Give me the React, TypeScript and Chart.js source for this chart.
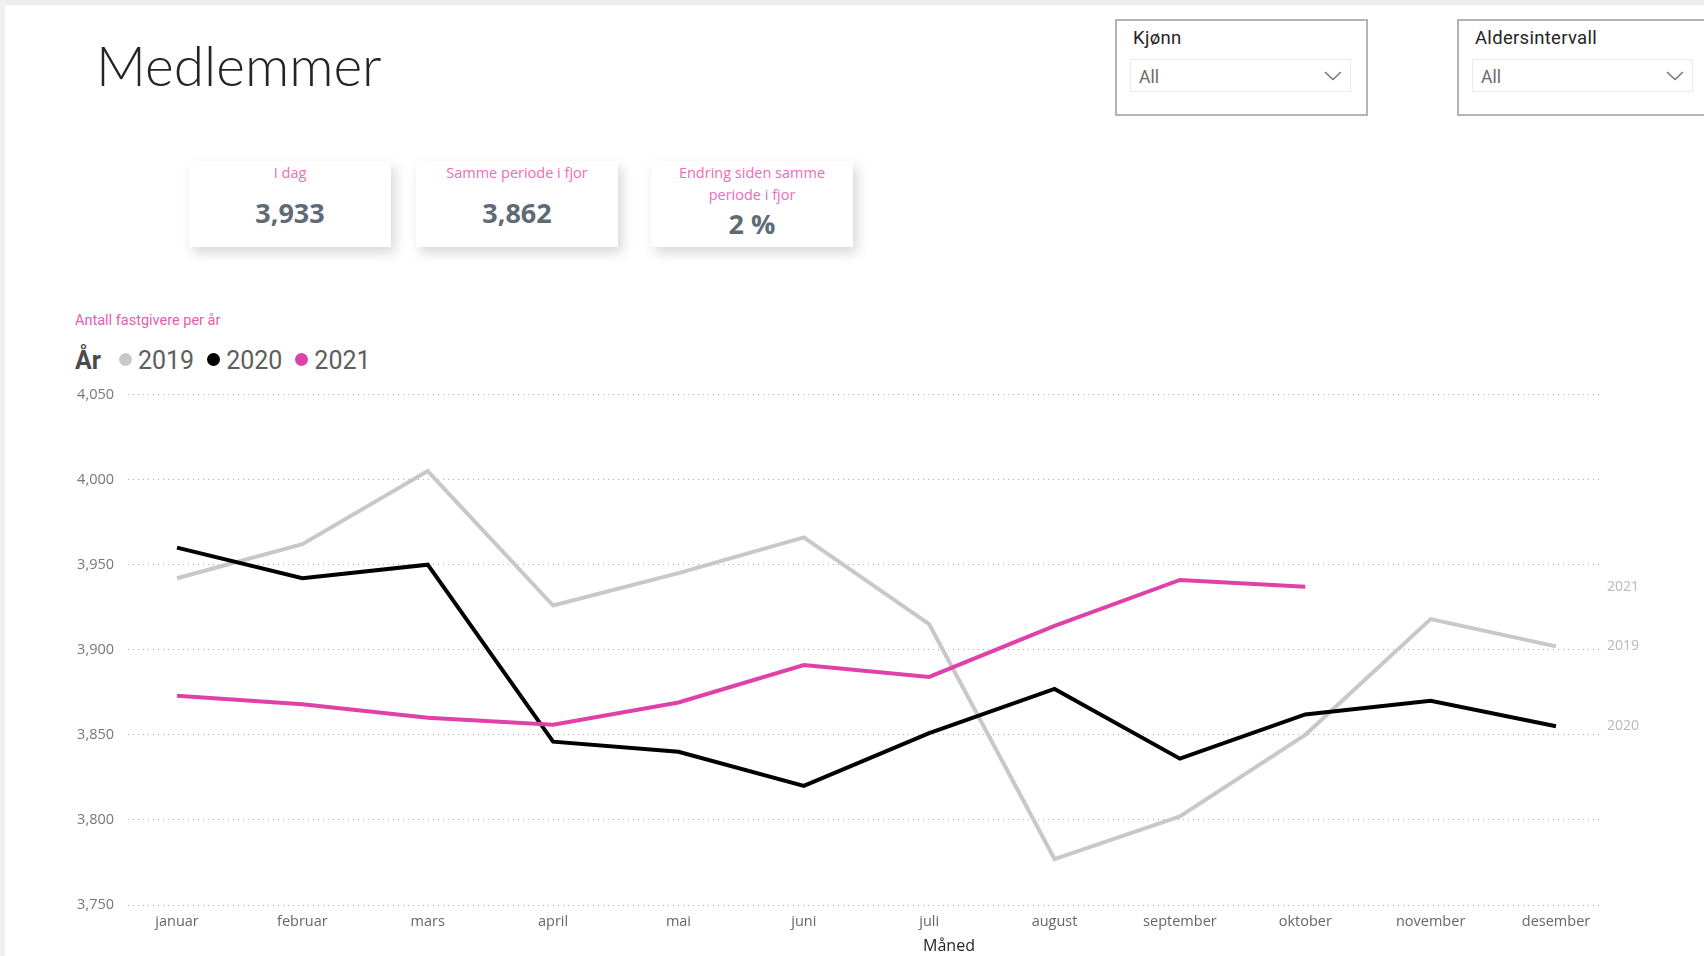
import React, { useEffect, useRef } from "react";
import { Chart, registerables } from "chart.js";

Chart.register(...registerables);

// ---------- data ----------
const months = [
  "januar", "februar", "mars", "april", "mai", "juni",
  "juli", "august", "september", "oktober", "november", "desember",
];
const years = ["2019", "2020", "2021"];
const values2019 = [3942, 3962, 4005, 3926, 3945, 3966, 3915, 3777, 3802, 3850, 3918, 3902];
const values2020 = [3960, 3942, 3950, 3846, 3840, 3820, 3851, 3877, 3836, 3862, 3870, 3855];
const values2021: (number | null)[] = [3873, 3868, 3860, 3856, 3869, 3891, 3884, 3914, 3941, 3937, null, null];
const yTicks = [3750, 3800, 3850, 3900, 3950, 4000, 4050];
const kpiLabels = ["I dag", "Samme periode i fjor", "Endring siden samme periode i fjor"];
const kpiValues = ["3,933", "3,862", "2 %"];
const slicerTitles = ["Kjønn", "Aldersintervall"];
const slicerValues = ["All", "All"];
const seriesColors = ["#c8c8c8", "#000000", "#e041a8"];

const pageTitle = "Medlemmer";
const chartTitle = "Antall fastgivere per år";
const legendTitle = "År";
const xAxisTitle = "Måned";

const endLabelsPlugin = {
  id: "endLabels",
  afterDatasetsDraw(chart: any) {
    const { ctx, chartArea, scales } = chart;
    ctx.save();
    ctx.font = '14px "Open Sans", sans-serif';
    ctx.fillStyle = "#b8b8b8";
    ctx.textBaseline = "middle";
    ctx.textAlign = "left";
    chart.data.datasets.forEach((ds: any) => {
      let last: number | null = null;
      for (const d of ds.data) if (d && d.y != null) last = d.y;
      if (last == null) return;
      ctx.fillText(ds.label, chartArea.right + 4, scales.y.getPixelForValue(last));
    });
    ctx.restore();
  },
};

function LineChart() {
  const ref = useRef<HTMLCanvasElement | null>(null);
  useEffect(() => {
    if (!ref.current) return;
    const series = [values2019, values2020, values2021];
    const chart = new Chart(ref.current, {
      type: "line",
      data: {
        datasets: series.map((vals, k) => ({
          label: years[k],
          data: vals.map((v, i) => ({ x: i, y: v })),
          borderColor: seriesColors[k],
          backgroundColor: seriesColors[k],
          borderWidth: 4,
          pointRadius: 0,
          pointHoverRadius: 0,
          tension: 0,
          spanGaps: false,
          fill: false,
          order: 3 - k,
        })),
      },
      options: {
        animation: false,
        responsive: false,
        maintainAspectRatio: false,
        events: [],
        layout: { padding: { left: 0, top: 24.5, right: 101, bottom: 0 } },
        plugins: {
          legend: { display: false },
          tooltip: { enabled: false },
          title: { display: false },
        },
        scales: {
          x: {
            type: "linear",
            min: -0.391,
            max: 11.375,
            afterBuildTicks: (s: any) => {
              s.ticks = months.map((_, i) => ({ value: i }));
            },
            afterFit: (s: any) => {
              s.height = 51;
            },
            ticks: {
              autoSkip: false,
              maxRotation: 0,
              minRotation: 0,
              padding: 8,
              color: "#666666",
              font: { family: '"Open Sans", sans-serif', size: 14.5 },
              callback: (v: any) => months[v] ?? "",
            },
            grid: { display: false, drawTicks: false },
            border: { display: false },
          },
          y: {
            min: 3750,
            max: 4050,
            afterBuildTicks: (s: any) => {
              s.ticks = yTicks.map((v) => ({ value: v }));
            },
            afterFit: (s: any) => {
              s.width = 128;
            },
            ticks: {
              padding: 14,
              color: "#777777",
              font: { family: '"Open Sans", sans-serif', size: 14.5 },
              callback: (v: any) => Number(v).toLocaleString("en-US"),
            },
            grid: { color: "#acacac", lineWidth: 1, drawTicks: false },
            border: { display: false, dash: [1, 4] },
          },
        },
      } as any,
      plugins: [endLabelsPlugin],
    });
    return () => chart.destroy();
  }, []);
  return (
    <canvas
      ref={ref}
      width={1704}
      height={586}
      style={{ position: "absolute", left: 0, top: 370, width: 1704, height: 586, display: "block" }}
    />
  );
}

function KpiCard({ left, label, value }: { left: number; label: string; value: string }) {
  return (
    <div
      style={{
        position: "absolute",
        left,
        top: 161,
        width: 202,
        height: 86,
        background: "#ffffff",
        boxShadow: "4px 6px 12px rgba(0,0,0,0.16)",
        display: "flex",
        flexDirection: "column",
        alignItems: "center",
        fontFamily: '"Open Sans", sans-serif',
      }}
    >
      <div
        style={{
          marginTop: 1,
          padding: "0 20px",
          textAlign: "center",
          color: "#ec6cc0",
          fontSize: 14.5,
          lineHeight: "21.7px",
        }}
      >
        {label}
      </div>
      <div
        style={{
          flex: 1,
          display: "flex",
          alignItems: "center",
          justifyContent: "center",
          color: "#5e6b77",
          fontWeight: 700,
          fontSize: 27,
          lineHeight: "30px",
          marginTop: -4,
        }}
      >
        {value}
      </div>
    </div>
  );
}

function Slicer({ left, title, value }: { left: number; title: string; value: string }) {
  return (
    <div
      style={{
        position: "absolute",
        left,
        top: 19,
        width: 249,
        height: 93,
        border: "2px solid #b4b4b4",
        background: "#fff",
        fontFamily: "Roboto, sans-serif",
      }}
    >
      <div
        style={{
          position: "absolute",
          left: 16,
          top: 5,
          fontSize: 18.5,
          fontWeight: 400,
          letterSpacing: 0.3,
          color: "#252423",
          lineHeight: "24px",
          whiteSpace: "nowrap",
        }}
      >
        {title}
      </div>
      <div
        style={{
          position: "absolute",
          left: 13,
          top: 38,
          width: 221,
          height: 33,
          border: "1px solid #ebebeb",
          boxSizing: "border-box",
        }}
      >
        <div style={{ position: "absolute", left: 8, top: 5, fontSize: 17.5, color: "#6a6a6a", lineHeight: "24px" }}>
          {value}
        </div>
        <svg width="18" height="10" style={{ position: "absolute", right: 8, top: 11 }}>
          <polyline points="1,1 9,8.5 17,1" fill="none" stroke="#6f6f6f" strokeWidth="1.3" />
        </svg>
      </div>
    </div>
  );
}

export default function App() {
  const kpiLefts = [189, 416, 651];
  const slicerLefts = [1115, 1457];
  return (
    <div
      style={{
        position: "fixed",
        left: 0,
        top: 0,
        width: 1704,
        height: 956,
        background: "#ffffff",
        overflow: "hidden",
      }}
    >
      <div style={{ position: "absolute", left: 0, top: 0, width: 1704, height: 5, background: "#eeeeee" }} />
      <div style={{ position: "absolute", left: 0, top: 0, width: 5, height: 956, background: "#f0f0f0" }} />

      <div
        style={{
          position: "absolute",
          left: 96,
          top: 37,
          fontFamily: "Lato, sans-serif",
          fontWeight: 300,
          fontSize: 55,
          lineHeight: "56px",
          color: "#252423",
          whiteSpace: "nowrap",
        }}
      >
        {pageTitle}
      </div>

      {kpiLabels.map((l, i) => (
        <KpiCard key={l} left={kpiLefts[i]} label={l} value={kpiValues[i]} />
      ))}

      {slicerTitles.map((t, i) => (
        <Slicer key={t} left={slicerLefts[i]} title={t} value={slicerValues[i]} />
      ))}

      <div
        style={{
          position: "absolute",
          left: 75,
          top: 311,
          fontFamily: "Roboto, sans-serif",
          fontSize: 14.5,
          lineHeight: "20px",
          color: "#e35db3",
          whiteSpace: "nowrap",
        }}
      >
        {chartTitle}
      </div>

      <div
        style={{
          position: "absolute",
          left: 75,
          top: 346,
          height: 30,
          display: "flex",
          alignItems: "center",
          fontFamily: "Roboto, sans-serif",
          fontSize: 25,
          lineHeight: "30px",
          whiteSpace: "nowrap",
        }}
      >
        <span style={{ fontWeight: 700, color: "#4a4a4a", marginRight: 18 }}>{legendTitle}</span>
        {years.map((y, i) => (
          <span key={y} style={{ display: "flex", alignItems: "center", marginRight: 13 }}>
            <span
              style={{
                display: "inline-block",
                width: 13,
                height: 13,
                borderRadius: "50%",
                background: seriesColors[i],
                marginRight: 6,
                marginTop: -4,
              }}
            />
            <span style={{ color: "#605e5c" }}>{y}</span>
          </span>
        ))}
      </div>

      <LineChart />

      <div
        style={{
          position: "absolute",
          left: 949,
          top: 945,
          transform: "translate(-50%, -50%)",
          fontFamily: '"Open Sans", sans-serif',
          fontSize: 16,
          lineHeight: "20px",
          color: "#252423",
          whiteSpace: "nowrap",
        }}
      >
        {xAxisTitle}
      </div>
    </div>
  );
}
